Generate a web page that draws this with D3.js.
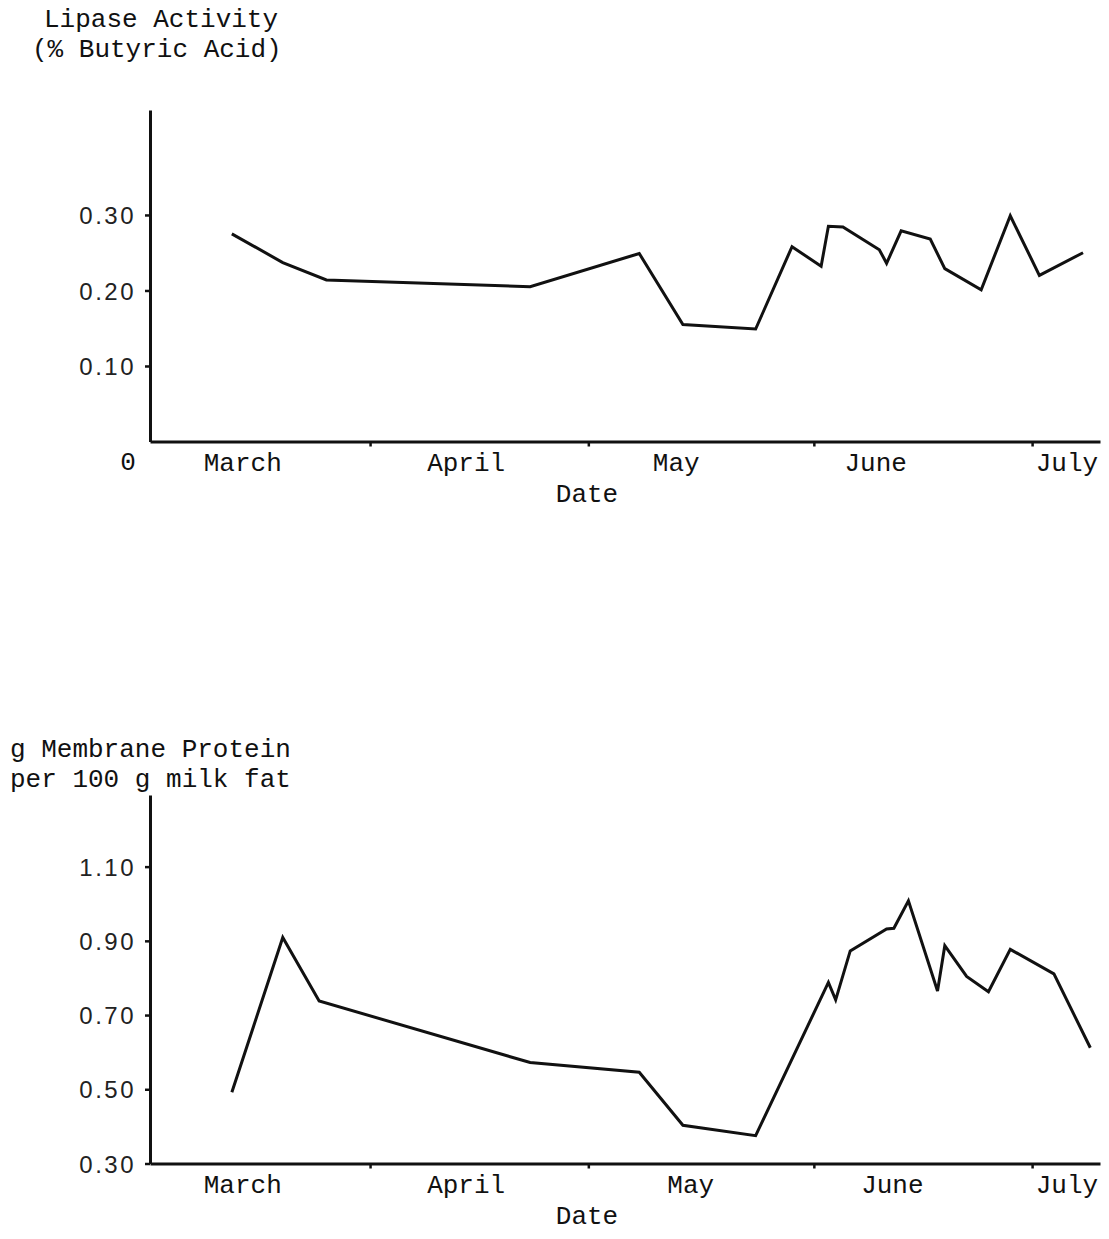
<!DOCTYPE html>
<html>
<head>
<meta charset="utf-8">
<script src="https://cdnjs.cloudflare.com/ajax/libs/d3/7.8.5/d3.min.js"></script>
<style>
  html, body { margin: 0; padding: 0; background: #fff; }
  svg { display: block; }
  .mono { font-family: "Liberation Mono", "Courier New", monospace; font-size: 26px; fill: #111; }
  .tick text { font-family: "Liberation Sans", Arial, sans-serif; font-size: 24px; fill: #222; letter-spacing: 2.5px; }
</style>
</head>
<body>
<script>
// ---------- data ----------
const monthNames = ["March", "April", "May", "June", "July"];
const monthStarts = ["1975-04-01", "1975-05-01", "1975-06-01", "1975-07-01"];
const lipaseLabelAt = ["1975-03-14T12", "1975-04-14T05", "1975-05-13T02", "1975-06-09T12", "1975-07-05T19"];
const proteinLabelAt = ["1975-03-14T12", "1975-04-14T05", "1975-05-15T02", "1975-06-11T19", "1975-07-05T19"];

const lipaseDates = ["1975-03-13", "1975-03-20", "1975-03-26", "1975-04-23", "1975-05-08", "1975-05-14",
  "1975-05-24", "1975-05-29", "1975-06-02", "1975-06-03", "1975-06-05", "1975-06-10", "1975-06-11",
  "1975-06-13", "1975-06-17", "1975-06-19", "1975-06-24", "1975-06-28", "1975-07-02", "1975-07-08"];
const lipaseValues = [0.275, 0.237, 0.214, 0.205, 0.249, 0.155, 0.149, 0.258, 0.232, 0.285,
  0.284, 0.254, 0.236, 0.279, 0.268, 0.229, 0.201, 0.299, 0.220, 0.250];
const lipaseTicks = [0.10, 0.20, 0.30];

const proteinDates = ["1975-03-13", "1975-03-20", "1975-03-25", "1975-04-23", "1975-05-08", "1975-05-14",
  "1975-05-24", "1975-06-03", "1975-06-04", "1975-06-06", "1975-06-11", "1975-06-12", "1975-06-14",
  "1975-06-18", "1975-06-19", "1975-06-22", "1975-06-25", "1975-06-28", "1975-07-04", "1975-07-09"];
const proteinValues = [0.492, 0.909, 0.738, 0.572, 0.546, 0.403, 0.375, 0.788, 0.741, 0.873,
  0.932, 0.934, 1.008, 0.765, 0.887, 0.804, 0.763, 0.877, 0.811, 0.612];
const proteinTicks = [0.30, 0.50, 0.70, 0.90, 1.10];

// ---------- drawing ----------
const W = 1109, H = 1239;
const svg = d3.select("body").append("svg").attr("width", W).attr("height", H);
const parseDay = d3.utcParse("%Y-%m-%d");
const parseHr = d3.utcParse("%Y-%m-%dT%H");

const x = d3.scaleUtc()
  .domain([parseHr("1975-03-01T18"), parseHr("1975-07-10T08")])
  .range([150, 1100]);

function drawPanel(opts) {
  const g = svg.append("g");
  const y = d3.scaleLinear().domain(opts.yDomain).range(opts.yRange);

  // x axis: month-boundary tick marks
  const xAxis = d3.axisBottom(x)
    .tickValues(monthStarts.map(parseDay))
    .tickSize(5).tickSizeOuter(0).tickFormat("");
  const gx = g.append("g").attr("transform", `translate(0,${opts.yRange[0]})`).call(xAxis);
  gx.select(".domain").attr("stroke", "#111").attr("stroke-width", 3);
  gx.selectAll(".tick line").attr("stroke", "#111").attr("stroke-width", 2.5);

  // month labels
  g.selectAll("text.month").data(monthNames).join("text")
    .attr("class", "mono month")
    .attr("x", (d, i) => x(parseHr(opts.labelAt[i])))
    .attr("y", opts.yRange[0] + 29)
    .attr("text-anchor", "middle")
    .text(d => d);

  g.append("text").attr("class", "mono")
    .attr("x", 587).attr("y", opts.yRange[0] + 60)
    .attr("text-anchor", "middle").text("Date");

  // y axis
  const yAxis = d3.axisLeft(y).tickValues(opts.ticks)
    .tickSize(5).tickSizeOuter(0).tickPadding(opts.pad).tickFormat(d3.format(".2f"));
  const gy = g.append("g").attr("transform", "translate(150,0)").call(yAxis);
  gy.select(".domain").attr("stroke", "#111").attr("stroke-width", 3);
  gy.selectAll(".tick line").attr("stroke", "#111").attr("stroke-width", 2.5);
  gy.selectAll(".tick text").attr("dy", "0.36em");

  // title
  g.selectAll("text.title").data(opts.title).join("text")
    .attr("class", "mono title")
    .attr("x", (d, i) => opts.titleX[i])
    .attr("y", (d, i) => opts.titleY + i * 30)
    .text(d => d);

  // line
  const pts = opts.dates.map((d, i) => [parseDay(d), opts.values[i]]);
  g.append("path").datum(pts)
    .attr("fill", "none").attr("stroke", "#111").attr("stroke-width", 3)
    .attr("stroke-linejoin", "miter")
    .attr("d", d3.line().x(d => x(d[0])).y(d => y(d[1])));
  return { g, y };
}

const lipasePanel = drawPanel({
  yDomain: [0, 0.439], yRange: [441.5, 110], ticks: lipaseTicks, pad: 9,
  labelAt: lipaseLabelAt, dates: lipaseDates, values: lipaseValues,
  title: ["Lipase Activity", "(% Butyric Acid)"], titleX: [44, 32], titleY: 27
});
lipasePanel.g.append("text").attr("class", "mono").attr("x", 128).attr("y", 470)
  .attr("text-anchor", "middle").text("0");

drawPanel({
  yDomain: [0.30, 1.293], yRange: [1163.5, 795], ticks: proteinTicks, pad: 9,
  labelAt: proteinLabelAt, dates: proteinDates, values: proteinValues,
  title: ["g Membrane Protein", "per 100 g milk fat"], titleX: [10, 10], titleY: 757
});
</script>
</body>
</html>
